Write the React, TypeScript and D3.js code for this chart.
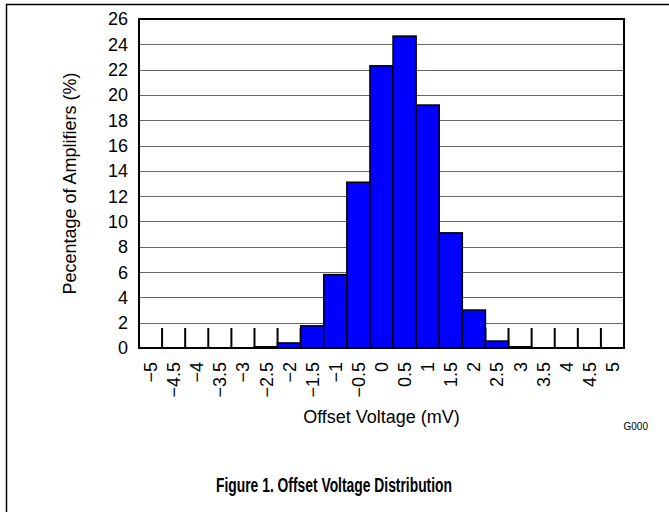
import React, { useRef, useEffect } from 'react';
import * as d3 from 'd3';

// bins of offset voltage (mV), labels as printed under the axis
const binLabels = ['−5', '−4.5', '−4', '−3.5', '−3', '−2.5', '−2', '−1.5', '−1', '−0.5', '0',
  '0.5', '1', '1.5', '2', '2.5', '3', '3.5', '4', '4.5', '5'];
// percentage of amplifiers in each bin
const percentValues = [0, 0, 0, 0, 0, 0.1, 0.4, 1.75, 5.8, 13.1, 22.3, 24.65, 19.2, 9.1, 3.0, 0.55, 0.1, 0, 0, 0, 0];
const yTicks = [0, 2, 4, 6, 8, 10, 12, 14, 16, 18, 20, 22, 24, 26];

const OffsetHistogram = () => {
  const chartRef = useRef(null);

  useEffect(() => {
    document.body.style.margin = '0';
    const width = 669;
    const height = 512;
    const margin = { left: 139, right: 45, top: 19, bottom: 164 };
    const font = 'Liberation Sans, Arial, sans-serif';

    const svg = d3.select(chartRef.current);
    svg.selectAll('*').remove();
    svg.attr('width', width).attr('height', height);

    // outer figure frame (left + top rule)
    svg.append('path')
      .attr('d', `M6.5,${height} V4.5 H${width}`)
      .attr('fill', 'none')
      .attr('stroke', '#000')
      .attr('stroke-width', 1.5);

    const x = d3.scaleBand()
      .domain(binLabels)
      .range([margin.left, width - margin.right])
      .padding(0);

    const y = d3.scaleLinear()
      .domain([0, 26])
      .range([height - margin.bottom, margin.top]);

    // horizontal grid
    svg.append('g')
      .selectAll('line')
      .data(yTicks.filter(d => d > 0 && d < 26))
      .join('line')
      .attr('x1', margin.left)
      .attr('x2', width - margin.right)
      .attr('y1', d => Math.round(y(d)) + 0.5)
      .attr('y2', d => Math.round(y(d)) + 0.5)
      .attr('stroke', '#666')
      .attr('stroke-width', 1);

    // category boundary ticks (drawn first, bars cover them)
    const boundaries = binLabels.slice(1);
    svg.append('g')
      .selectAll('line')
      .data(boundaries)
      .join('line')
      .attr('x1', d => x(d))
      .attr('x2', d => x(d))
      .attr('y1', y(0))
      .attr('y2', y(0) - 20)
      .attr('stroke', '#000')
      .attr('stroke-width', 2);

    // bars
    svg.append('g')
      .selectAll('rect')
      .data(percentValues.map((v, i) => ({ label: binLabels[i], v })).filter(d => d.v > 0))
      .join('rect')
      .attr('x', d => x(d.label))
      .attr('y', d => y(d.v))
      .attr('width', x.bandwidth())
      .attr('height', d => y(0) - y(d.v))
      .attr('fill', '#0000FF')
      .attr('stroke', '#000')
      .attr('stroke-width', 1.5);

    // plot frame
    svg.append('rect')
      .attr('x', margin.left)
      .attr('y', margin.top)
      .attr('width', width - margin.left - margin.right)
      .attr('height', y(0) - margin.top)
      .attr('fill', 'none')
      .attr('stroke', '#000')
      .attr('stroke-width', 2);

    // y tick labels
    svg.append('g')
      .selectAll('text')
      .data(yTicks)
      .join('text')
      .attr('x', margin.left - 11)
      .attr('y', d => y(d))
      .attr('dy', '0.36em')
      .attr('text-anchor', 'end')
      .style('font-family', font)
      .style('font-size', '18px')
      .text(d => d);

    // x tick labels, rotated
    svg.append('g')
      .selectAll('text')
      .data(binLabels)
      .join('text')
      .attr('transform', d => `translate(${x(d) + x.bandwidth() / 2},${y(0) + 14}) rotate(-90)`)
      .attr('dy', '0.36em')
      .attr('text-anchor', 'end')
      .style('font-family', font)
      .style('font-size', '18px')
      .text(d => d);

    // axis titles
    svg.append('text')
      .attr('x', (margin.left + width - margin.right) / 2)
      .attr('y', 423)
      .attr('text-anchor', 'middle')
      .style('font-family', font)
      .style('font-size', '18px')
      .text('Offset Voltage (mV)');

    svg.append('text')
      .attr('transform', `translate(76,${(margin.top + y(0)) / 2}) rotate(-90)`)
      .attr('text-anchor', 'middle')
      .style('font-family', font)
      .style('font-size', '18px')
      .text('Pecentage of Amplifiers (%)');

    svg.append('text')
      .attr('x', 648)
      .attr('y', 430)
      .attr('text-anchor', 'end')
      .style('font-family', font)
      .style('font-size', '10px')
      .text('G000');

    svg.append('text')
      .attr('x', 334)
      .attr('y', 492)
      .attr('text-anchor', 'middle')
      .style('font-family', font)
      .style('font-size', '20px')
      .style('font-weight', 'bold')
      .attr('textLength', 236)
      .attr('lengthAdjust', 'spacingAndGlyphs')
      .text('Figure 1. Offset Voltage Distribution');
  }, []);

  return <svg ref={chartRef}></svg>;
};

export default function App() {
  return <OffsetHistogram />;
}
